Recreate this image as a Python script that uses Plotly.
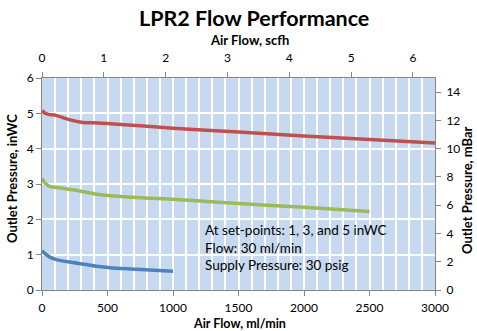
import plotly.graph_objects as go

# Regulator outlet pressure vs. air flow at three set-points
flow_5 = [0, 25, 50, 100, 200, 300, 400, 500, 750, 1000, 1500, 2000, 2500, 3000]
press_5 = [5.08, 5.00, 4.97, 4.95, 4.83, 4.75, 4.73, 4.71, 4.65, 4.58, 4.47, 4.36, 4.26, 4.16]

flow_3 = [0, 25, 60, 110, 210, 320, 420, 520, 720, 930, 1125, 1500, 2000, 2500]
press_3 = [3.16, 3.02, 2.93, 2.90, 2.85, 2.78, 2.71, 2.67, 2.62, 2.58, 2.54, 2.45, 2.34, 2.22]

flow_1 = [0, 25, 60, 110, 210, 320, 420, 520, 720, 1000]
press_1 = [1.11, 1.02, 0.93, 0.86, 0.79, 0.73, 0.67, 0.63, 0.59, 0.53]

series_names = ["5 inWC", "3 inWC", "1 inWC"]
series_colors = ["#c0504d", "#9bbb59", "#4f81bd"]

ML_MIN_TO_SCFH = 60 / 1000 / 28.3168   # ml/min -> standard cubic feet per hour
INWC_TO_MBAR = 2.4909

X_MAX = 3000
Y_MAX = 6

FONT = "Lato"

fig = go.Figure()

for name, xs, ys, color in zip(series_names, [flow_5, flow_3, flow_1],
                               [press_5, press_3, press_1], series_colors):
    fig.add_trace(go.Scatter(
        x=xs, y=ys, mode="lines", name=name,
        line=dict(color=color, width=3.5, shape="spline", smoothing=0.6),
        xaxis="x", yaxis="y",
    ))
    # same data in scfh / mBar on the secondary axes (kept transparent)
    fig.add_trace(go.Scatter(
        x=[v * ML_MIN_TO_SCFH for v in xs], y=[v * INWC_TO_MBAR for v in ys],
        mode="lines", line=dict(color=color, width=0), opacity=0,
        hoverinfo="skip", showlegend=False, xaxis="x2", yaxis="y2",
    ))

axis_line = "#868686"
tick_font = dict(family=FONT, size=12, color="#000000")

fig.update_layout(
    width=477, height=331,
    margin=dict(l=42, r=42, t=78, b=41),
    paper_bgcolor="white",
    plot_bgcolor="#c6d9f1",
    showlegend=False,
    font=dict(family=FONT, color="#000000"),
    xaxis=dict(
        range=[0, X_MAX], dtick=500, tick0=0,
        showgrid=True, gridcolor="white", gridwidth=1.5,
        minor=dict(dtick=100, showgrid=True, gridcolor="white", gridwidth=1.5),
        showline=True, linecolor=axis_line, linewidth=1, mirror=False,
        ticks="outside", ticklen=5, tickcolor=axis_line, ticklabelstandoff=2,
        tickfont=tick_font, zeroline=False, fixedrange=True,
    ),
    yaxis=dict(
        range=[0, Y_MAX], dtick=1, tick0=0,
        showgrid=True, gridcolor="white", gridwidth=1.5,
        showline=True, linecolor=axis_line, linewidth=1,
        ticks="outside", ticklen=5, tickcolor=axis_line,
        tickfont=tick_font, zeroline=False, fixedrange=True,
    ),
    xaxis2=dict(
        range=[0, X_MAX * ML_MIN_TO_SCFH], dtick=1, tick0=0,
        overlaying="x", side="top", anchor="y",
        showgrid=False, showline=True, linecolor=axis_line, linewidth=1,
        ticks="outside", ticklen=5, tickcolor=axis_line, ticklabelstandoff=5,
        tickfont=tick_font, zeroline=False, fixedrange=True,
    ),
    yaxis2=dict(
        range=[0, 15], dtick=2, tick0=0,
        overlaying="y", side="right", anchor="x",
        showgrid=False, showline=True, linecolor=axis_line, linewidth=1,
        ticks="outside", ticklen=5, tickcolor=axis_line, ticklabelstandoff=3,
        tickfont=tick_font, zeroline=False, fixedrange=True,
    ),
)

bold = dict(family=FONT, size=13, color="#000000")
annotations = [
    dict(text="<b>LPR2 Flow Performance</b>", x=254, y=331 - 18,
         font=dict(family=FONT, size=21.5, color="#000000")),
    dict(text="<b>Air Flow, scfh</b>", x=250, y=331 - 40, font=bold),
    dict(text="<b>Air Flow, ml/min</b>", x=239, y=331 - 323,
         font=dict(family=FONT, size=12.5, color="#000000")),
    dict(text="<b>Outlet Pressure, inWC</b>", x=12, y=331 - 179, font=bold, textangle=-90),
    dict(text="<b>Outlet Pressure, mBar</b>", x=467, y=331 - 190, font=bold, textangle=-90),
]
for a in annotations:
    fig.add_annotation(
        text=a["text"], font=a["font"], textangle=a.get("textangle", 0),
        xref="paper", yref="paper",
        x=(a["x"] - 42) / (477 - 84), y=(a["y"] - 41) / (331 - 119),
        xanchor="center", yanchor="middle", showarrow=False,
    )

note_lines = [
    "At set-points: 1, 3, and 5 inWC",
    "Flow: 30 ml/min",
    "Supply Pressure: 30 psig",
]
fig.add_annotation(
    text="<br>".join(note_lines), align="left",
    xref="paper", yref="paper",
    x=(203 - 42) / (477 - 84), y=(331 - 247 - 41) / (331 - 119),
    xanchor="left", yanchor="middle", showarrow=False,
    font=dict(family=FONT, size=13.5, color="#000000"),
)

fig.write_html("out.html")
